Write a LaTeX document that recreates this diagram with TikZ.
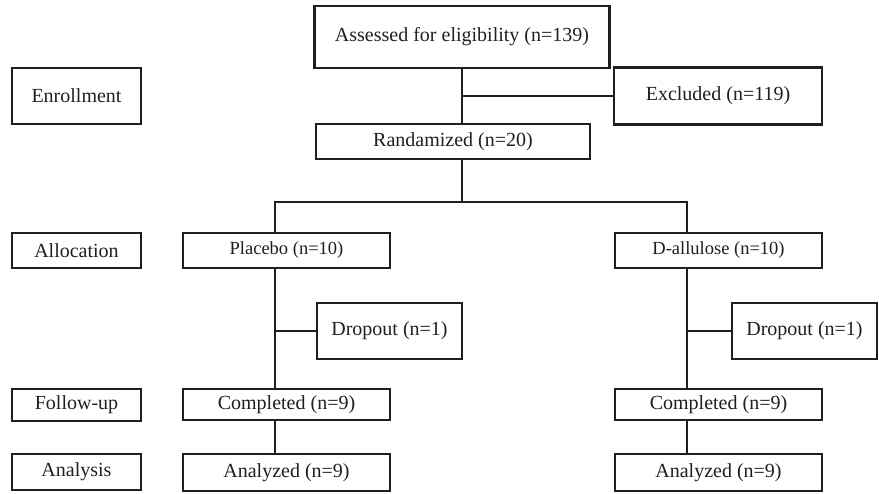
\documentclass[tikz,border=0pt]{standalone}
\usepackage{fontspec}
\setmainfont{Liberation Serif}
\begin{document}
\begin{tikzpicture}[x=1pt,y=-1pt,
  box/.style={draw=black!88, line width=2.3pt, rectangle, inner sep=0pt, align=center,
    font=\fontsize{20}{22}\selectfont, text=black!88},
  small/.style={font=\fontsize{18.5}{20}\selectfont},
  mid/.style={font=\fontsize{18.5}{21}\selectfont},
  conn/.style={draw=black!88, line width=2.3pt}]
\useasboundingbox (0,0) rectangle (879,494);
% left stage labels
\node[box, minimum width=129pt, minimum height=56pt] (enroll) at (76.5,96) {Enrollment};
\node[box, minimum width=129pt, minimum height=35pt] (alloc) at (76.5,250.5) {Allocation};
\node[box, minimum width=129pt, minimum height=32pt] (follow) at (76.5,405) {Follow-up};
\node[box, minimum width=129pt, minimum height=36pt] (analysis) at (76.5,472) {Analysis};
% main flow
\node[box, minimum width=295pt, minimum height=62pt] (assess) at (462,37) {Assessed for eligibility (n=139)};
\node[box, minimum width=208pt, minimum height=57pt] (excl) at (718,96) {Excluded (n=119)};
\node[box, minimum width=274pt, minimum height=35pt] (rand) at (453,141.5) {Randamized (n=20)};
\node[box, small, minimum width=207pt, minimum height=35pt] (plac) at (286.5,250.5) {Placebo (n=10)};
\node[box, mid, minimum width=207pt, minimum height=35pt] (dall) at (718.5,250.5) {D-allulose (n=10)};
\node[box, minimum width=145pt, minimum height=56pt] (drop1) at (389.5,331) {Dropout (n=1)};
\node[box, minimum width=145pt, minimum height=56pt] (drop2) at (804.5,331) {Dropout (n=1)};
\node[box, minimum width=207pt, minimum height=31pt] (comp1) at (286.5,404.5) {Completed (n=9)};
\node[box, minimum width=207pt, minimum height=31pt] (comp2) at (718.5,404.5) {Completed (n=9)};
\node[box, minimum width=207pt, minimum height=37pt] (anal1) at (286.5,472.5) {Analyzed (n=9)};
\node[box, minimum width=207pt, minimum height=37pt] (anal2) at (718.5,472.5) {Analyzed (n=9)};
% connectors
\coordinate (split) at (462,202);
\coordinate (L) at (275,202);
\coordinate (R) at (687,202);
\draw[conn] (assess.south) -- (assess.south |- rand.north);
\draw[conn] (assess.south |- excl.west) -- (excl.west);
\draw[conn] (split |- rand.south) -- (split);
\draw[conn] (L |- plac.north) -- (L) -- (R) -- (R |- dall.north);
\draw[conn] (L |- plac.south) -- (L |- comp1.north);
\draw[conn] (L |- drop1.west) -- (drop1.west);
\draw[conn] (L |- comp1.south) -- (L |- anal1.north);
\draw[conn] (R |- dall.south) -- (R |- comp2.north);
\draw[conn] (R |- drop2.west) -- (drop2.west);
\draw[conn] (R |- comp2.south) -- (R |- anal2.north);
\end{tikzpicture}
\end{document}
